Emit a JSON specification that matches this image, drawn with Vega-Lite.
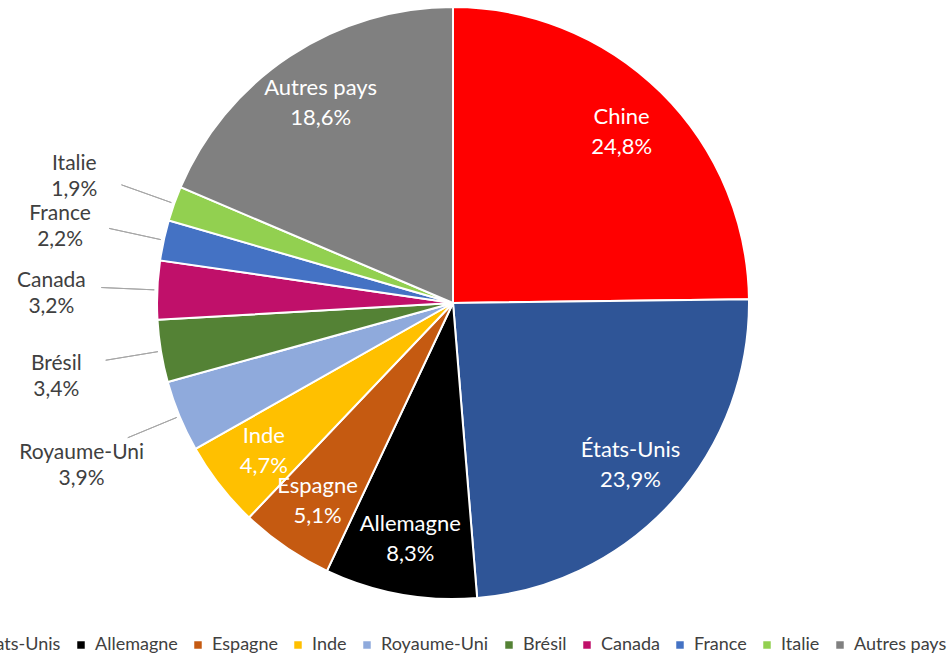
{
  "$schema": "https://vega.github.io/schema/vega-lite/v6.json",
  "width": 906,
  "height": 606,
  "autosize": "none",
  "padding": {"left": 0, "top": 0, "right": 41, "bottom": 49},
  "background": "white",
  "config": {
    "view": {"stroke": null},
    "font": "Lato",
    "locale": {"number": {"decimal": ",", "thousands": " ", "grouping": [3], "currency": ["", " €"], "percent": "%"}}
  },
  "data": {"values": [
    {"pays": "Chine", "part": 0.248, "ordre": 1},
    {"pays": "États-Unis", "part": 0.239, "ordre": 2},
    {"pays": "Allemagne", "part": 0.083, "ordre": 3},
    {"pays": "Espagne", "part": 0.051, "ordre": 4},
    {"pays": "Inde", "part": 0.047, "ordre": 5},
    {"pays": "Royaume-Uni", "part": 0.039, "ordre": 6},
    {"pays": "Brésil", "part": 0.034, "ordre": 7},
    {"pays": "Canada", "part": 0.032, "ordre": 8},
    {"pays": "France", "part": 0.022, "ordre": 9},
    {"pays": "Italie", "part": 0.019, "ordre": 10},
    {"pays": "Autres pays", "part": 0.186, "ordre": 11}
  ]},
  "encoding": {
    "theta": {"field": "part", "type": "quantitative", "stack": true},
    "order": {"field": "ordre", "type": "quantitative"}
  },
  "layer": [
    {
      "mark": {"type": "arc", "outerRadius": 296, "stroke": "white", "strokeWidth": 2},
      "encoding": {
        "color": {
          "field": "pays", "type": "nominal",
          "scale": {
            "domain": ["Chine", "États-Unis", "Allemagne", "Espagne", "Inde", "Royaume-Uni", "Brésil", "Canada", "France", "Italie", "Autres pays"],
            "range": ["#FF0000", "#2F5597", "#000000", "#C55A11", "#FFC000", "#8FAADC", "#548235", "#C0106A", "#4472C4", "#92D050", "#808080"]
          },
          "legend": {
            "orient": "none", "legendX": -124, "legendY": 636, "direction": "horizontal",
            "title": null, "symbolType": "square", "symbolSize": 56, "symbolStrokeWidth": 0,
            "labelFont": "Lato", "labelFontSize": 18, "labelColor": "#404040",
            "columnPadding": 11, "labelOffset": 5
          }
        }
      }
    },
    {
      "mark": {"type": "arc", "innerRadius": 299, "outerRadius": 352, "padAngle": 3, "fillOpacity": 0, "stroke": "#a6a6a6", "strokeWidth": 1},
      "encoding": {
        "detail": {"field": "pays"},
        "strokeOpacity": {"condition": {"test": "datum.ordre >= 6 && datum.ordre <= 10", "value": 1}, "value": 0}
      }
    },
    {
      "mark": {"type": "text", "radius": 240, "dy": -15, "fontSize": 22, "fill": "white", "font": "Lato"},
      "encoding": {
        "detail": {"field": "pays"},
        "text": {"field": "pays"},
        "opacity": {"condition": {"test": "datum.ordre <= 5 || datum.ordre == 11", "value": 1}, "value": 0}
      }
    },
    {
      "mark": {"type": "text", "radius": 240, "dy": 15, "fontSize": 22, "fill": "white", "font": "Lato"},
      "encoding": {
        "detail": {"field": "pays"},
        "text": {"field": "part", "format": ".1%"},
        "opacity": {"condition": {"test": "datum.ordre <= 5 || datum.ordre == 11", "value": 1}, "value": 0}
      }
    },
    {
      "mark": {"type": "text", "radius": 402, "dy": -4, "fontSize": 21, "fill": "#404040", "font": "Lato"},
      "encoding": {
        "detail": {"field": "pays"},
        "text": {"field": "pays"},
        "opacity": {"condition": {"test": "datum.ordre >= 6 && datum.ordre <= 10", "value": 1}, "value": 0}
      }
    },
    {
      "mark": {"type": "text", "radius": 402, "dy": 22, "fontSize": 21, "fill": "#404040", "font": "Lato"},
      "encoding": {
        "detail": {"field": "pays"},
        "text": {"field": "part", "format": ".1%"},
        "opacity": {"condition": {"test": "datum.ordre >= 6 && datum.ordre <= 10", "value": 1}, "value": 0}
      }
    }
  ]
}
